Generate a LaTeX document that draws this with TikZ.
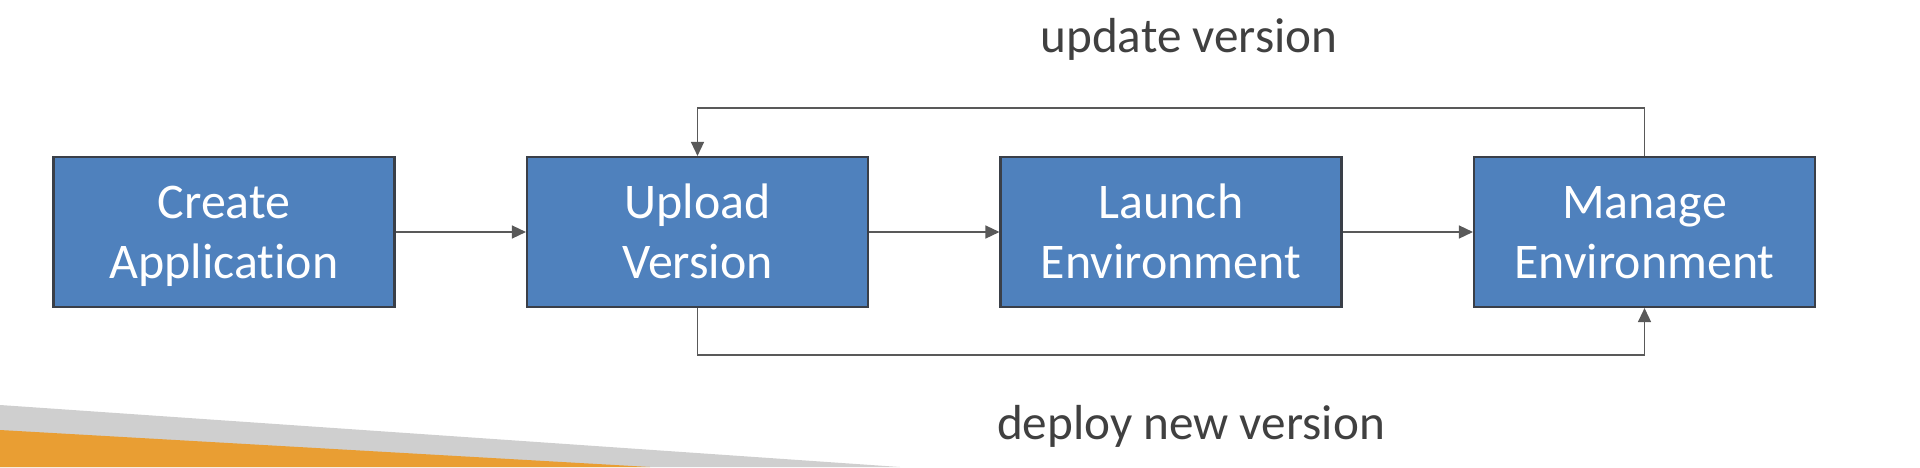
\documentclass[tikz,border=0pt]{standalone}
\usepackage{fontspec}
\setmainfont{Carlito}[Ligatures=CommonOff]
\usepackage{xcolor}
\usetikzlibrary{arrows.meta}
\definecolor{stepblue}{HTML}{4F81BD}
\definecolor{stepedge}{HTML}{3A3F48}
\definecolor{linegrey}{HTML}{595959}
\definecolor{bandgrey}{HTML}{CFCFCF}
\definecolor{bandorange}{HTML}{E99E33}
\begin{document}
\begin{tikzpicture}[every node/.style={align=center},stepbox/.style={draw=stepedge,line width=0.6pt,fill=stepblue,text=white,minimum width=3.41cm,minimum height=1.5cm,font=\fontsize{14.2}{17}\selectfont,text height=1.02cm,text depth=0.1cm},lbl/.style={text=black!75,font=\fontsize{14}{17}\selectfont,anchor=base},arr/.style={-{Triangle[length=1.4mm,width=1.3mm]},line width=0.4pt,draw=linegrey}]
\useasboundingbox (0,0) rectangle (19.2,4.67);
\fill[bandgrey] (0,0.62) -- (9.0,0) -- (0,0) -- cycle;
\fill[bandorange] (0,0.37) -- (6.5,0) -- (0,0) -- cycle;
\node[stepbox] (create) at (2.24,2.35) {Create\\Application};
\node[stepbox] (upload) at (6.975,2.35) {Upload\\Version};
\node[stepbox] (launch) at (11.71,2.35) {Launch\\Environment};
\node[stepbox] (manage) at (16.445,2.35) {Manage\\Environment};
\coordinate (toprail) at (0,3.59);
\coordinate (botrail) at (0,1.12);
\node[lbl] (updlbl) at (11.89,4.15) {update version};
\node[lbl] (deplbl) at (11.91,0.28) {deploy new version};
\draw[arr] (create) -- (upload);
\draw[arr] (upload) -- (launch);
\draw[arr] (launch) -- (manage);
\draw[arr] (manage.north) -- (manage.north |- toprail) -| (upload.north);
\draw[arr] (upload.south) -- (upload.south |- botrail) -| (manage.south);
\end{tikzpicture}
\end{document}
